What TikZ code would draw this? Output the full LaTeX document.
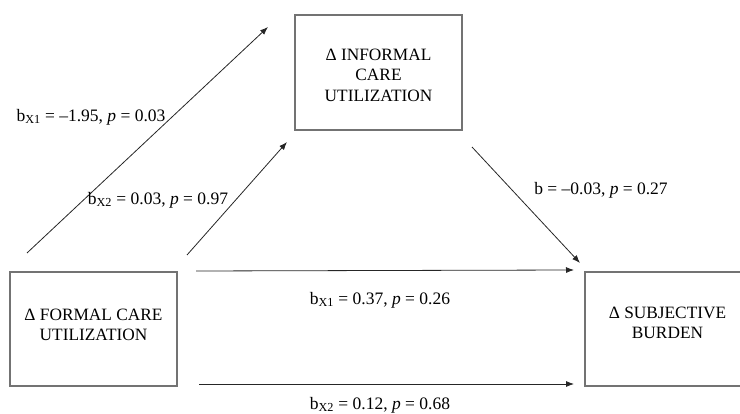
\documentclass[tikz,border=0pt]{standalone}
\usepackage{fontspec}
\setmainfont{Liberation Serif}
\usetikzlibrary{arrows.meta}
\begin{document}
\begin{tikzpicture}[x=1pt,y=-1pt,
  box/.style={draw=black!55,line width=1.3pt,fill=none},
  conn/.style={draw=black!85,line width=0.8pt,-{Latex[length=8pt,width=6pt]}},
  lbl/.style={inner sep=0pt,font=\fontsize{17.5}{20}\selectfont},
  txt/.style={inner sep=0pt,align=center,font=\fontsize{17.3}{20.5}\selectfont}]
\useasboundingbox (0,0) rectangle (740,414);
% boxes
\draw[box] (295,15) rectangle (462,130);
\draw[box] (10,272) rectangle (177,386);
\draw[box] (585,272) rectangle (752,386);
\node[txt] (inf) at (378.5,75) {Δ INFORMAL\\CARE\\UTILIZATION};
\node[txt] (for) at (93.5,325) {Δ FORMAL CARE\\UTILIZATION};
\node[txt] (sub) at (667.5,323) {Δ SUBJECTIVE\\BURDEN};
% connector endpoints
\coordinate (a1) at (27,253);
\coordinate (a2) at (268,27);
\coordinate (b1) at (187,255);
\coordinate (b2) at (287,142);
\coordinate (c1) at (472,147);
\coordinate (c2) at (580,263);
\coordinate (d1) at (196,271);
\coordinate (d2) at (574,270);
\coordinate (e1) at (199,384);
\coordinate (e2) at (574,384);
\draw[conn] (a1) -- (a2);
\draw[conn] (b1) -- (b2);
\draw[conn] (c1) -- (c2);
\draw[conn] (d1) -- (d2);
\draw[conn] (e1) -- (e2);
% labels
\node[lbl] (l1) at (91,117) {b\textsubscript{X1} = –1.95, \textit{p} = 0.03};
\node[lbl] (l2) at (158,200) {b\textsubscript{X2} = 0.03, \textit{p} = 0.97};
\node[lbl] (l3) at (601,190) {b = –0.03, \textit{p} = 0.27};
\node[lbl] (l4) at (380,300) {b\textsubscript{X1} = 0.37, \textit{p} = 0.26};
\node[lbl] (l5) at (380,405) {b\textsubscript{X2} = 0.12, \textit{p} = 0.68};
\end{tikzpicture}
\end{document}
